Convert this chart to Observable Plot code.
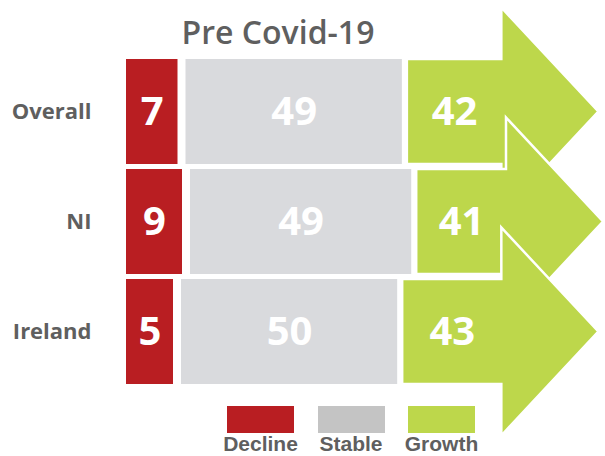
<!DOCTYPE html>
<html>
<head>
<meta charset="utf-8">
<script src="https://cdn.jsdelivr.net/npm/d3@7"></script>
<script src="https://cdn.jsdelivr.net/npm/@observablehq/plot@0.6"></script>
<style>
  html, body { margin: 0; padding: 0; background: #fff; }
  #wrap { position: relative; width: 605px; height: 456px; overflow: hidden; font-family: "Open Sans", sans-serif; }
  #chart { position: absolute; left: 0; top: 0; }
  #title { position: absolute; left: 0; top: 16px; width: 556px; text-align: center; font: 600 32px/32px "Open Sans", sans-serif; color: #5f5f5f; }
  #legend { position: absolute; left: 227px; top: 406px; display: flex; gap: 23.5px; }
  .item { width: 67px; display: flex; flex-direction: column; align-items: center; }
  .sw { width: 67px; height: 27px; }
  .lab { margin-top: 2px; font: bold 21px/17px "Liberation Sans", Arial, sans-serif; color: #5f5f5f; white-space: nowrap; }
</style>
</head>
<body>
<div id="wrap">
  <div id="chart"></div>
  <div id="title"></div>
  <div id="legend"></div>
</div>
<script>
// ---- data ----
const title = "Pre Covid-19";
const regions = ["Overall", "NI", "Ireland"];
const categories = ["Decline", "Stable", "Growth"];
const decline = [7, 9, 5];
const stable = [49, 49, 50];
const growth = [42, 41, 43];
const barColors = ["#b91e22", "#d9dadd", "#bdd74b"];
const legendColors = ["#b91e22", "#c4c4c4", "#bdd74b"];

// ---- layout ----
const W = 605, H = 456;
const xDomain = [0, 5, 9, 99];
const xRange = [126, 173, 182, 603];
const HEAD_LEN = 97, HEAD_HALF = 104;
const insets = {Decline: 0, Stable: 8, Growth: 5};
const sx = d3.scaleLinear().domain(xDomain).range(xRange);

const series = [decline, stable, growth];
const table = [];
regions.forEach((r, i) => {
  let acc = 0;
  categories.forEach((c, j) => {
    const v = series[j][i];
    const x1 = acc, x2 = acc + v;
    acc = x2;
    const p1 = sx(x1) + insets[c];
    const p2 = c === "Growth" ? sx(x2) - HEAD_LEN : sx(x2);
    table.push({region: r, category: c, value: v, x1, x2, labelX: sx.invert((p1 + p2) / 2)});
  });
});

function arrowRender(index, scales, values, dimensions, context, next) {
  const g = next(index, scales, values, dimensions, context);
  d3.select(g).selectAll("rect").each(function () {
    const r = d3.select(this);
    const x = +r.attr("x"), y = +r.attr("y"), w = +r.attr("width"), h = +r.attr("height");
    const xe = x + w, xs = xe - HEAD_LEN, yc = y + h / 2;
    const p = document.createElementNS("http://www.w3.org/2000/svg", "path");
    p.setAttribute("d", `M${x},${y}H${xs}V${yc - HEAD_HALF}L${xe},${yc}L${xs},${yc + HEAD_HALF}V${y + h}H${x}Z`);
    for (const a of ["fill", "stroke"]) if (this.getAttribute(a)) p.setAttribute(a, this.getAttribute(a));
    this.replaceWith(p);
  });
  return g;
}

const chart = Plot.plot({
  width: W,
  height: H,
  marginTop: 58,
  marginBottom: 72,
  marginLeft: 100,
  marginRight: 0,
  style: {fontFamily: "Open Sans", overflow: "visible"},
  x: {type: "linear", domain: xDomain, range: xRange, axis: null},
  y: {type: "band", domain: regions, paddingInner: 0.05, paddingOuter: 0, axis: null},
  color: {domain: categories, range: barColors},
  marks: [
    Plot.barX(table.filter(d => d.category === "Decline"), {x1: "x1", x2: "x2", y: "region", fill: barColors[0]}),
    Plot.barX(table.filter(d => d.category === "Stable"), {x1: "x1", x2: "x2", y: "region", fill: barColors[1], insetLeft: insets.Stable}),
    Plot.barX(table.filter(d => d.category === "Growth"), {x1: "x1", x2: "x2", y: "region", fill: barColors[2], insetLeft: insets.Growth, stroke: "white", strokeWidth: 2.5, render: arrowRender}),
    Plot.text(table, {x: "labelX", y: "region", text: d => String(d.value), fill: "white", fontSize: 40, fontWeight: "bold", fontFamily: "Open Sans", textAnchor: "middle"}),
    Plot.axisY({tickSize: 0, tickPadding: 9, fontSize: 22, fontWeight: "bold", color: "#5f5f5f", fontFamily: "Open Sans", label: null})
  ]
});
document.getElementById("chart").append(chart);
document.getElementById("title").textContent = title;

const legend = document.getElementById("legend");
categories.forEach((c, j) => {
  const it = document.createElement("div");
  it.className = "item";
  const sw = document.createElement("div");
  sw.className = "sw";
  sw.style.background = legendColors[j];
  const lab = document.createElement("div");
  lab.className = "lab";
  lab.textContent = c;
  it.append(sw, lab);
  legend.append(it);
});
</script>
</body>
</html>
